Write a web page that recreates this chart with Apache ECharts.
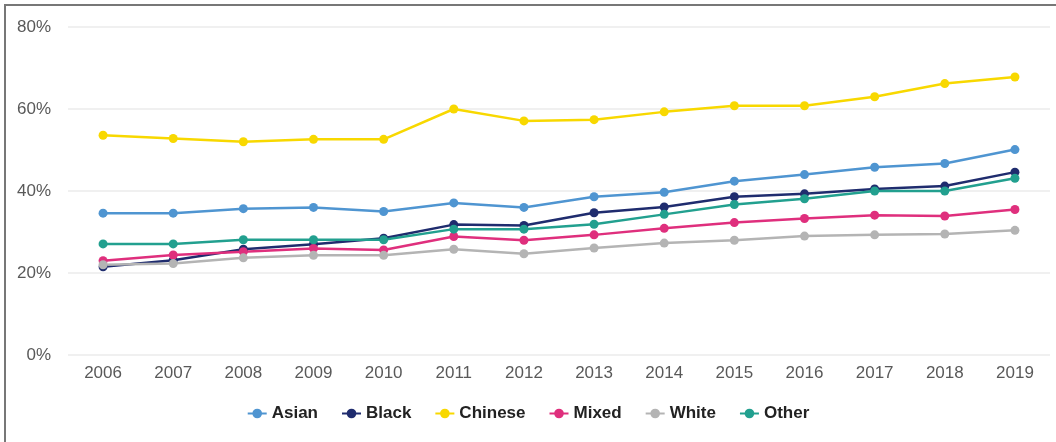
<!DOCTYPE html>
<html>
<head>
<meta charset="utf-8">
<script src="https://cdn.jsdelivr.net/npm/echarts@6/dist/echarts.min.js"></script>
<style>
html,body{margin:0;padding:0;background:#fff;}
#c{width:1056px;height:442px;}
</style>
</head>
<body>
<div id="c"></div>
<script>
const years = ['2006','2007','2008','2009','2010','2011','2012','2013','2014','2015','2016','2017','2018','2019'];
const asian   = [34.6,34.6,35.7,36.0,35.0,37.1,36.0,38.6,39.7,42.4,44.0,45.8,46.7,50.1];
const black   = [21.5,23.1,25.8,27.0,28.5,31.8,31.6,34.7,36.1,38.6,39.3,40.5,41.2,44.6];
const chinese = [53.6,52.8,52.0,52.6,52.6,60.0,57.1,57.4,59.3,60.8,60.8,63.0,66.2,67.8];
const mixed   = [23.0,24.4,25.2,26.0,25.6,28.9,28.0,29.3,30.9,32.3,33.3,34.1,33.9,35.5];
const white   = [22.0,22.3,23.7,24.3,24.3,25.8,24.7,26.1,27.3,28.0,29.0,29.3,29.5,30.4];
const other   = [27.1,27.1,28.1,28.1,28.1,30.7,30.7,31.9,34.3,36.7,38.1,40.0,40.0,43.1];
const seriesNames = ['Asian','Black','Chinese','Mixed','White','Other'];
const seriesData = [asian, black, chinese, mixed, white, other];
const colors = ['#4f95d1','#1f2c6e','#f8d800','#df2f7d','#b4b4b4','#22a08f'];

const chart = echarts.init(document.getElementById('c'), null, {renderer:'canvas'});
chart.setOption({
  animation: false,
  color: colors,
  graphic: [{
    type: 'rect', silent: true, z: -1,
    shape: {x: 5, y: 5, width: 1200, height: 600},
    style: {fill: 'none', stroke: '#777', lineWidth: 2}
  }],
  grid: {left: 68, right: 6, top: 27, bottom: 87, containLabel: false},
  legend: {
    data: seriesNames,
    bottom: 15,
    left: 'center',
    itemWidth: 19,
    itemHeight: 12,
    itemGap: 23,
    itemStyle: {borderWidth: 0},
    textStyle: {fontFamily: 'Liberation Sans, Arial, sans-serif', fontSize: 17, fontWeight: 'bold', color: '#222'}
  },
  xAxis: {
    type: 'category',
    data: years,
    boundaryGap: true,
    axisLine: {show: false},
    axisTick: {show: false},
    axisLabel: {margin: 10, fontFamily: 'Liberation Sans, Arial, sans-serif', fontSize: 17, color: '#595959'}
  },
  yAxis: {
    type: 'value',
    min: 0, max: 80, interval: 20,
    axisLine: {show: false},
    axisTick: {show: false},
    splitLine: {lineStyle: {color: '#ebebeb', width: 1.5}},
    axisLabel: {margin: 17, fontFamily: 'Liberation Sans, Arial, sans-serif', fontSize: 17, color: '#595959', formatter: '{value}%', padding: [0,0,5,0]}
  },
  series: seriesNames.map((n, i) => ({
    name: n,
    type: 'line',
    data: seriesData[i],
    symbol: 'circle',
    symbolSize: 9,
    lineStyle: {width: 2.5},
    itemStyle: {color: colors[i]}
  }))
});
</script>
</body>
</html>
